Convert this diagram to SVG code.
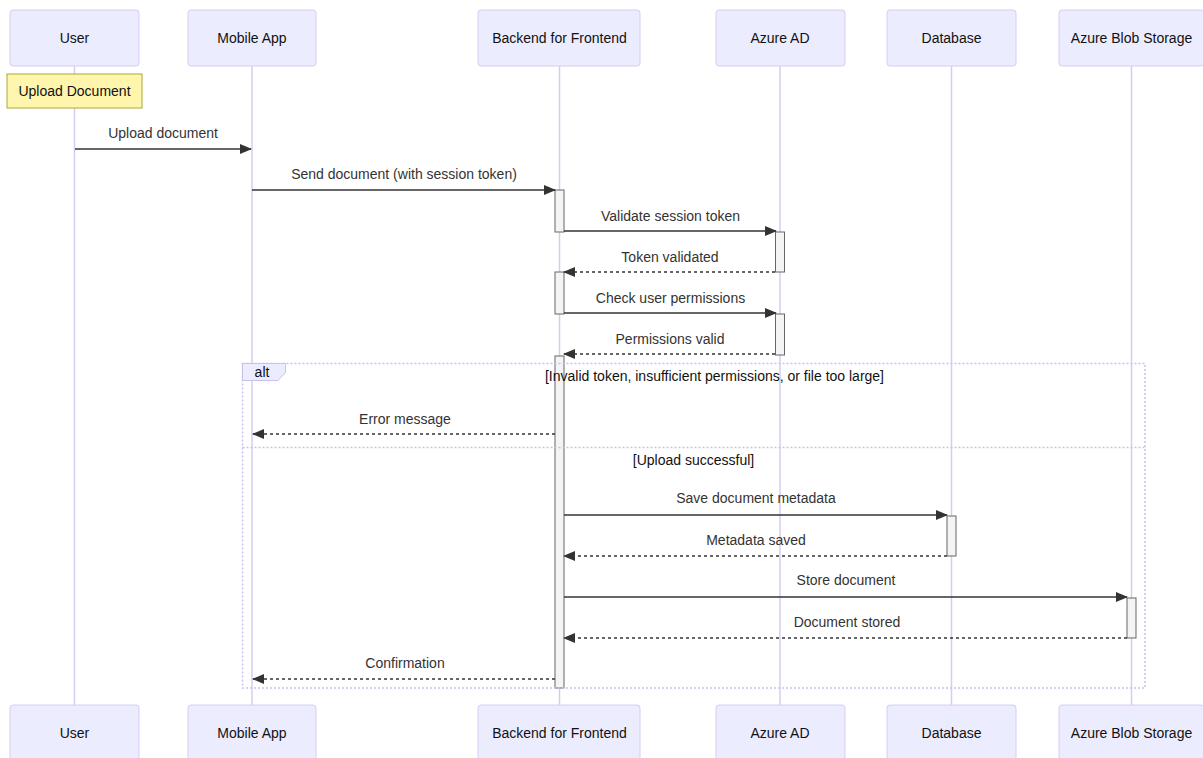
<svg xmlns="http://www.w3.org/2000/svg" width="1203" height="758" viewBox="0 0 1203 758">
<style>
text{font-family:"Liberation Sans",Arial,sans-serif;font-size:14px;fill:#333;text-anchor:middle;dominant-baseline:central}
text.dark{fill:#111}
.actor{fill:#ECECFF;stroke:#D6CCF2;stroke-width:1}
.life{stroke:#D6CCF2;stroke-width:1.5}
.msg{stroke:#333;stroke-width:1.5;fill:none}
.dash{stroke-dasharray:3,3}
.act{fill:#f4f4f4;stroke:#666;stroke-width:1}
.frame{stroke:#C9C0EE;stroke-width:1.5;stroke-dasharray:2,2;fill:none}
</style>
<defs>
<marker id="arrow" viewBox="0 0 12 10" refX="11" refY="5" markerWidth="12" markerHeight="10" markerUnits="userSpaceOnUse" orient="auto">
<path d="M0,0 L12,5 L0,10 z" fill="#333"/>
</marker>
</defs>
<g id="lifelines">
<line class="life" x1="74.5" y1="66" x2="74.5" y2="705"/>
<line class="life" x1="252" y1="66" x2="252" y2="705"/>
<line class="life" x1="559.5" y1="66" x2="559.5" y2="705"/>
<line class="life" x1="780" y1="66" x2="780" y2="705"/>
<line class="life" x1="951.5" y1="66" x2="951.5" y2="705"/>
<line class="life" x1="1131.5" y1="66" x2="1131.5" y2="705"/>
</g>
<g id="actor-user"><rect class="actor" x="10" y="10" width="129" height="56" rx="3"/><text class="dark" x="74.5" y="38">User</text><rect class="actor" x="10" y="705" width="129" height="56" rx="3"/><text class="dark" x="74.5" y="733">User</text></g>
<g id="actor-mobile"><rect class="actor" x="188" y="10" width="128" height="56" rx="3"/><text class="dark" x="252" y="38">Mobile App</text><rect class="actor" x="188" y="705" width="128" height="56" rx="3"/><text class="dark" x="252" y="733">Mobile App</text></g>
<g id="actor-bff"><rect class="actor" x="478" y="10" width="162" height="56" rx="3"/><text class="dark" x="559.5" y="38">Backend for Frontend</text><rect class="actor" x="478" y="705" width="162" height="56" rx="3"/><text class="dark" x="559.5" y="733">Backend for Frontend</text></g>
<g id="actor-aad"><rect class="actor" x="716" y="10" width="129" height="56" rx="3"/><text class="dark" x="780" y="38">Azure AD</text><rect class="actor" x="716" y="705" width="129" height="56" rx="3"/><text class="dark" x="780" y="733">Azure AD</text></g>
<g id="actor-db"><rect class="actor" x="887" y="10" width="129" height="56" rx="3"/><text class="dark" x="951.5" y="38">Database</text><rect class="actor" x="887" y="705" width="129" height="56" rx="3"/><text class="dark" x="951.5" y="733">Database</text></g>
<g id="actor-blob"><rect class="actor" x="1059" y="10" width="145" height="56" rx="3"/><text class="dark" x="1131.5" y="38">Azure Blob Storage</text><rect class="actor" x="1059" y="705" width="145" height="56" rx="3"/><text class="dark" x="1131.5" y="733">Azure Blob Storage</text></g>
<g id="note"><rect x="7" y="74" width="135" height="34" fill="#fff5ad" stroke="#aaaa33" stroke-width="1"/><text class="dark" x="74.5" y="91">Upload Document</text></g>
<g id="activations">
<rect class="act" x="555" y="190" width="9" height="42"/>
<rect class="act" x="775.5" y="232" width="9" height="40"/>
<rect class="act" x="555" y="272" width="9" height="42"/>
<rect class="act" x="775.5" y="314" width="9" height="41"/>
<rect class="act" x="555" y="356" width="9" height="332"/>
<rect class="act" x="947" y="516" width="9" height="40"/>
<rect class="act" x="1127" y="598" width="9" height="40"/>
</g>
<g id="alt-frame">
<rect class="frame" x="242.5" y="363.5" width="902.5" height="324.5"/>
<line class="frame" x1="242.5" y1="447.5" x2="1145" y2="447.5"/>
<path d="M242.5,363.5 L285.5,363.5 L285.5,372.5 L278,380.5 L242.5,380.5 Z" fill="#ECECFF" stroke="#C9C0EE" stroke-width="1"/>
<text class="dark" x="262" y="372">alt</text>
<text class="dark" x="714.5" y="376">[Invalid token, insufficient permissions, or file too large]</text>
<text class="dark" x="693.5" y="460">[Upload successful]</text>
</g>
<g id="connectors">
<line class="msg" x1="75" y1="149" x2="251" y2="149" marker-end="url(#arrow)"/>
<text x="163" y="133">Upload document</text>
<line class="msg" x1="252" y1="190" x2="555" y2="190" marker-end="url(#arrow)"/>
<text x="404" y="174">Send document (with session token)</text>
<line class="msg" x1="564" y1="231" x2="776" y2="231" marker-end="url(#arrow)"/>
<text x="670.5" y="216">Validate session token</text>
<line class="msg dash" x1="775" y1="272" x2="564" y2="272" marker-end="url(#arrow)"/>
<text x="670" y="257">Token validated</text>
<line class="msg" x1="564" y1="313" x2="776" y2="313" marker-end="url(#arrow)"/>
<text x="670.5" y="298">Check user permissions</text>
<line class="msg dash" x1="775" y1="354" x2="564" y2="354" marker-end="url(#arrow)"/>
<text x="670" y="339">Permissions valid</text>
<line class="msg dash" x1="555" y1="434" x2="253" y2="434" marker-end="url(#arrow)"/>
<text x="405" y="419">Error message</text>
<line class="msg" x1="564" y1="515" x2="947" y2="515" marker-end="url(#arrow)"/>
<text x="756" y="498">Save document metadata</text>
<line class="msg dash" x1="947" y1="556" x2="564" y2="556" marker-end="url(#arrow)"/>
<text x="756" y="540">Metadata saved</text>
<line class="msg" x1="564" y1="597" x2="1127" y2="597" marker-end="url(#arrow)"/>
<text x="846" y="580">Store document</text>
<line class="msg dash" x1="1127" y1="638" x2="564" y2="638" marker-end="url(#arrow)"/>
<text x="847" y="622">Document stored</text>
<line class="msg dash" x1="555" y1="679" x2="253" y2="679" marker-end="url(#arrow)"/>
<text x="405" y="663">Confirmation</text>
</g>
</svg>
